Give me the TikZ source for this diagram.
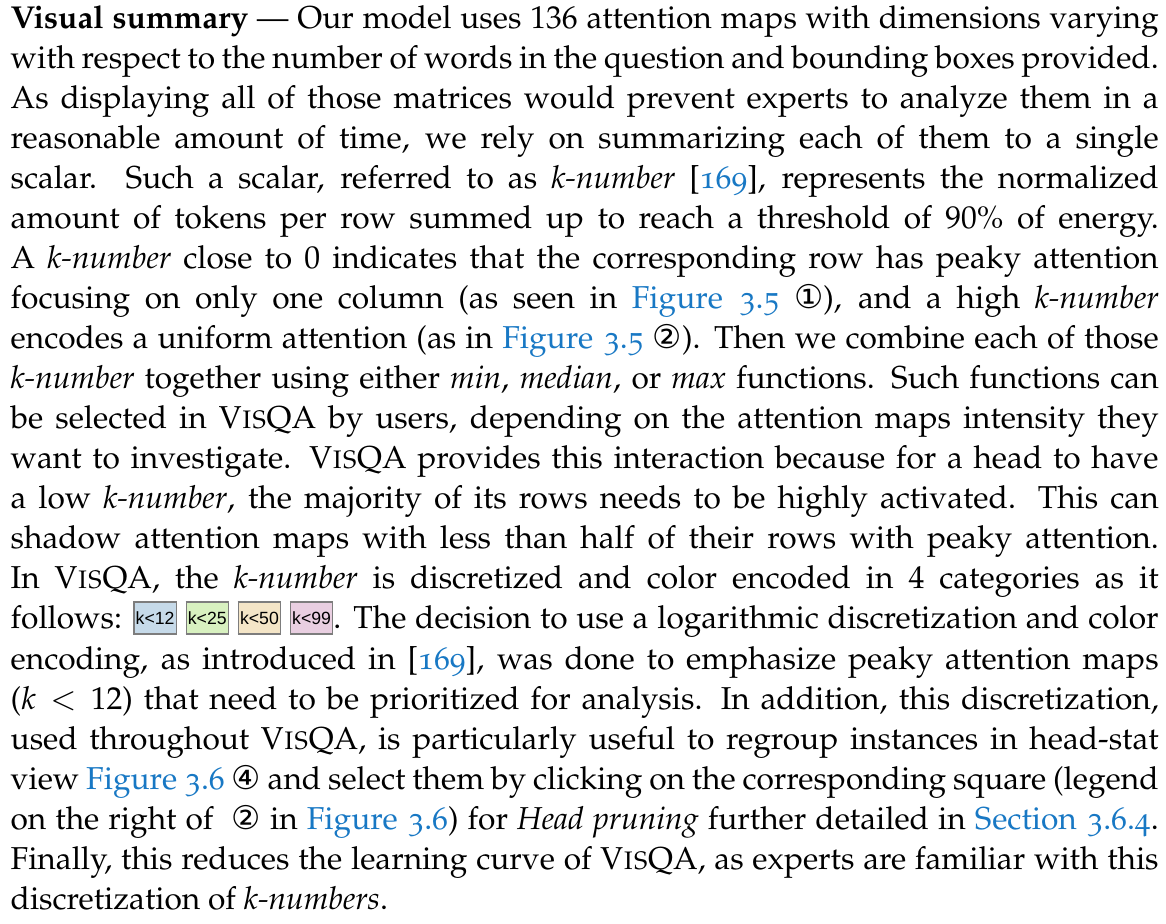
\documentclass[tikz,border=0pt]{standalone}
\usepackage{fontspec}
\newfontfamily\circfont{DejaVu Sans}
\newfontfamily\boxfont{Liberation Sans}
\usepackage[T1]{fontenc}
\usepackage{mathpazo}
\usepackage{tikz}

\definecolor{linkblue}{RGB}{24,120,196}
\definecolor{kgray}{RGB}{125,125,125}
\definecolor{kblue}{RGB}{198,218,233}
\definecolor{kgreen}{RGB}{216,241,192}
\definecolor{kbeige}{RGB}{244,229,199}
\definecolor{kpink}{RGB}{233,207,225}

\newlength{\rowwidth}
\setlength{\rowwidth}{344.4pt}
\newcommand{\jrow}[1]{\makebox[\rowwidth][s]{#1}}
\newcommand{\osf}[1]{{\fontfamily{pplj}\selectfont #1}}
\newcommand{\lnk}[1]{\textcolor{linkblue}{\osf{#1}}}
\newcommand{\visqa}{V\textsc{is}QA}
\newcommand{\kn}{\emph{k-number}}
\newcommand{\circnum}[1]{{\circfont\fontsize{9.8}{10}\selectfont #1}}
\newcommand{\kbox}[2]{{\setlength{\fboxsep}{0.3pt}\setlength{\fboxrule}{0.4pt}%
  \fcolorbox{kgray}{#1}{\rule[-1pt]{0pt}{8.6pt}\raisebox{1.5pt}{\boxfont\fontsize{5.3}{6}\selectfont #2}}}}

\begin{document}
\begin{tikzpicture}
      \tikzstyle{textrow}=[anchor=base west, inner sep=0pt, font=\fontsize{9.5}{12}\selectfont]

      \useasboundingbox (0,0) rectangle (349.8pt,-277.2pt);

      \node[textrow] (r1) at (3pt,-8.7pt) {\jrow{\textbf{Visual summary} --- Our model uses 136 attention maps with dimensions varying}};
      \node[textrow] (r2) at (3pt,-20.7pt) {\jrow{with respect to the number of words in the question and bounding boxes provided.}};
      \node[textrow] (r3) at (3pt,-32.7pt) {\jrow{As displaying all of those matrices would prevent experts to analyze them in a}};
      \node[textrow] (r4) at (3pt,-44.7pt) {\jrow{reasonable amount of time, we rely on summarizing each of them to a single}};
      \node[textrow] (r5) at (3pt,-56.7pt) {\jrow{scalar. Such a scalar, referred to as \kn{} [\lnk{169}], represents the normalized}};
      \node[textrow] (r6) at (3pt,-68.7pt) {\jrow{amount of tokens per row summed up to reach a threshold of 90\% of energy.}};
      \node[textrow] (r7) at (3pt,-80.7pt) {\jrow{A \kn{} close to 0 indicates that the corresponding row has peaky attention}};
      \node[textrow] (r8) at (3pt,-92.7pt) {\jrow{focusing on only one column (as seen in \lnk{Figure 3.5} \circnum{①}), and a high \kn}};
      \node[textrow] (r9) at (3pt,-104.7pt) {\jrow{encodes a uniform attention (as in \lnk{Figure 3.5} \circnum{②}). Then we combine each of those}};
      \node[textrow] (r10) at (3pt,-116.7pt) {\jrow{\kn{} together using either \emph{min}, \emph{median}, or \emph{max} functions. Such functions can}};
      \node[textrow] (r11) at (3pt,-128.7pt) {\jrow{be selected in \visqa{} by users, depending on the attention maps intensity they}};
      \node[textrow] (r12) at (3pt,-140.7pt) {\jrow{want to investigate. \visqa{} provides this interaction because for a head to have}};
      \node[textrow] (r13) at (3pt,-152.7pt) {\jrow{a low \kn, the majority of its rows needs to be highly activated. This can}};
      \node[textrow] (r14) at (3pt,-164.7pt) {\jrow{shadow attention maps with less than half of their rows with peaky attention.}};
      \node[textrow] (r15) at (3pt,-176.7pt) {\jrow{In \visqa, the \kn{} is discretized and color encoded in 4 categories as it}};
      \node[textrow] (r16) at (3pt,-188.7pt) {\jrow{follows: \kbox{kblue}{k<12} \kbox{kgreen}{k<25} \kbox{kbeige}{k<50} \kbox{kpink}{k<99}. The decision to use a logarithmic discretization and color}};
      \node[textrow] (r17) at (3pt,-200.7pt) {\jrow{encoding, as introduced in [\lnk{169}], was done to emphasize peaky attention maps}};
      \node[textrow] (r18) at (3pt,-212.7pt) {\jrow{($k<12$) that need to be prioritized for analysis. In addition, this discretization,}};
      \node[textrow] (r19) at (3pt,-224.7pt) {\jrow{used throughout \visqa, is particularly useful to regroup instances in head-stat}};
      \node[textrow] (r20) at (3pt,-236.7pt) {\jrow{view \lnk{Figure 3.6} \circnum{④} and select them by clicking on the corresponding square (legend}};
      \node[textrow] (r21) at (3pt,-248.7pt) {\jrow{on the right of \ \circnum{②} in \lnk{Figure 3.6}) for \emph{Head pruning} further detailed in \lnk{Section 3.6.4}.}};
      \node[textrow] (r22) at (3pt,-260.7pt) {\jrow{Finally, this reduces the learning curve of \visqa, as experts are familiar with this}};
      \node[textrow] (r23) at (3pt,-272.7pt) {discretization of \emph{k-numbers}.};

    \end{tikzpicture}
\end{document}
